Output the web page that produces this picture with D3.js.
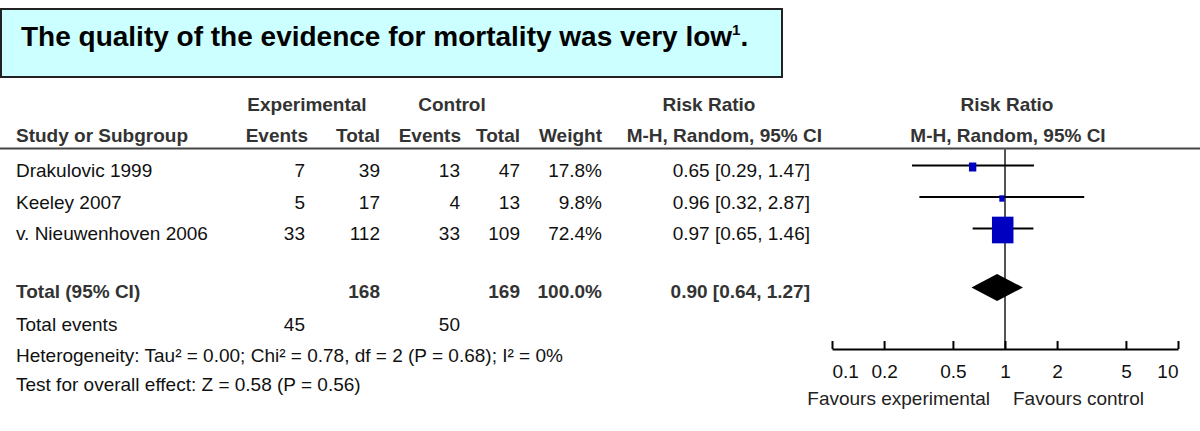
<!DOCTYPE html>
<html><head><meta charset="utf-8">
<script src="https://cdn.jsdelivr.net/npm/d3@7"></script>
<style>body{margin:0;background:#fff} svg{display:block}</style>
</head><body><svg id="c" width="1200" height="431"></svg>
<script>
// ---------- data ----------
const titleText = "The quality of the evidence for mortality was very low";
const titleSup = "1";
const studies = ["Drakulovic 1999", "Keeley 2007", "v. Nieuwenhoven 2006"];
const expEvents = [7, 5, 33];
const expTotal = [39, 17, 112];
const ctlEvents = [13, 4, 33];
const ctlTotal = [47, 13, 109];
const weights = [17.8, 9.8, 72.4];
const rr = [0.65, 0.96, 0.97];
const rrLow = [0.29, 0.32, 0.65];
const rrHigh = [1.47, 2.87, 1.46];
const totalLabel = "Total (95% CI)";
const totalExpTotal = 168, totalCtlTotal = 169, totalWeight = 100.0;
const totalRR = 0.90, totalLow = 0.64, totalHigh = 1.27;
const totalExpEvents = 45, totalCtlEvents = 50;
const heterogeneityText = "Heterogeneity: Tau² = 0.00; Chi² = 0.78, df = 2 (P = 0.68); I² = 0%";
const overallText = "Test for overall effect: Z = 0.58 (P = 0.56)";
const axisTicks = [0.1, 0.2, 0.5, 1, 2, 5, 10];
const favoursLeft = "Favours experimental", favoursRight = "Favours control";

// ---------- setup ----------
const svg = d3.select("#c");
const FONT = "'Liberation Sans',Arial,sans-serif";
const FS = 19;

function txt(g, s, x, y, anchor, opt = {}) {
  return g.append("text")
    .attr("x", x).attr("y", y)
    .attr("text-anchor", anchor)
    .style("font-family", FONT)
    .style("font-size", (opt.size || FS) + "px")
    .style("font-weight", opt.bold ? "bold" : "normal")
    .attr("fill", opt.fill || "#111")
    .text(s);
}

// ---------- title box ----------
svg.append("rect").attr("x", 1).attr("y", 9).attr("width", 781).attr("height", 68)
  .attr("fill", "#ccffff").attr("stroke", "#222").attr("stroke-width", 2);
const tt = svg.append("text").attr("x", 21).attr("y", 46)
  .style("font-family", FONT).style("font-size", "28px").style("font-weight", "bold")
  .attr("fill", "#000");
tt.append("tspan").text(titleText);
tt.append("tspan").attr("dy", -11).style("font-size", "15px").text(titleSup);
tt.append("tspan").attr("dy", 11).text(".");

// ---------- headers ----------
const hdr = svg.append("g");
const hOpt = { bold: true, fill: "#333" };
txt(hdr, "Experimental", 307, 111, "middle", hOpt);
txt(hdr, "Control", 452, 111, "middle", hOpt);
txt(hdr, "Risk Ratio", 709, 111, "middle", hOpt);
txt(hdr, "Risk Ratio", 1007, 111, "middle", hOpt);
txt(hdr, "Study or Subgroup", 16, 142, "start", hOpt);
txt(hdr, "Events", 308, 142, "end", hOpt);
txt(hdr, "Total", 380, 142, "end", hOpt);
txt(hdr, "Events", 461, 142, "end", hOpt);
txt(hdr, "Total", 520, 142, "end", hOpt);
txt(hdr, "Weight", 602, 142, "end", hOpt);
txt(hdr, "M-H, Random, 95% CI", 822, 142, "end", hOpt);
txt(hdr, "M-H, Random, 95% CI", 1008, 142, "middle", hOpt);
svg.append("line").attr("x1", 0).attr("x2", 1200).attr("y1", 148.5).attr("y2", 148.5)
  .attr("stroke", "#444").attr("stroke-width", 2);

// ---------- scales ----------
const x = d3.scaleLog().domain([0.1, 10]).range([832, 1178]);
const rowBase = d3.scaleLinear().domain([0, 1]).range([177, 208.5]);
const wSize = d3.scaleLinear().domain([0, 100]).range([2.7, 28.7]);
const hSize = d3.scaleLinear().domain([0, 100]).range([3.2, 35.6]);
const fmt2 = d3.format(".2f"), fmt1 = d3.format(".1f");
const ciStr = (a, b, c) => `${fmt2(a)} [${fmt2(b)}, ${fmt2(c)}]`;

// vertical line of no effect
svg.append("line").attr("x1", x(1)).attr("x2", x(1)).attr("y1", 148).attr("y2", 349)
  .attr("stroke", "#555").attr("stroke-width", 2);

// ---------- study rows ----------
const body = svg.append("g");
studies.forEach((s, i) => {
  const y = rowBase(i);
  txt(body, s, 16, y, "start");
  txt(body, expEvents[i], 305, y, "end");
  txt(body, expTotal[i], 380, y, "end");
  txt(body, ctlEvents[i], 460, y, "end");
  txt(body, ctlTotal[i], 520, y, "end");
  txt(body, fmt1(weights[i]) + "%", 602, y, "end");
  txt(body, ciStr(rr[i], rrLow[i], rrHigh[i]), 810, y, "end");
  const cy = y - 11.5;
  body.append("line").attr("x1", x(rrLow[i])).attr("x2", x(rrHigh[i]))
    .attr("y1", cy).attr("y2", cy).attr("stroke", "#000").attr("stroke-width", 2);
  const w = wSize(weights[i]), h = hSize(weights[i]);
  body.append("rect").attr("x", x(rr[i]) - w / 2).attr("y", cy - h / 2 + 1.5)
    .attr("width", w).attr("height", h).attr("fill", "#0000c0");
});

// ---------- total row ----------
const yT = 298;
const bOpt = { bold: true, fill: "#333" };
txt(body, totalLabel, 16, yT, "start", bOpt);
txt(body, totalExpTotal, 380, yT, "end", bOpt);
txt(body, totalCtlTotal, 520, yT, "end", bOpt);
txt(body, fmt1(totalWeight) + "%", 602, yT, "end", bOpt);
txt(body, ciStr(totalRR, totalLow, totalHigh), 810, yT, "end", bOpt);
const dy = yT - 10.5;
body.append("path")
  .attr("d", d3.line()([[x(totalLow), dy], [x(totalRR), dy - 13.5], [x(totalHigh), dy], [x(totalRR), dy + 13.5]]) + "Z")
  .attr("fill", "#000");

txt(body, "Total events", 16, 331, "start");
txt(body, totalExpEvents, 305, 331, "end");
txt(body, totalCtlEvents, 460, 331, "end");
txt(body, heterogeneityText, 16, 362, "start");
txt(body, overallText, 16, 391, "start");

// ---------- axis ----------
const ax = svg.append("g").attr("transform", "translate(0,349)")
  .call(d3.axisBottom(x).tickValues(axisTicks).tickSize(-8).tickSizeOuter(0).tickPadding(15.5)
    .tickFormat(d3.format("~g")));
ax.select(".domain").attr("stroke", "#000").attr("stroke-width", 2);
ax.selectAll(".tick line").attr("stroke", "#000").attr("stroke-width", 2);
ax.selectAll(".tick text")
  .style("font-family", FONT).style("font-size", FS + "px")
  .attr("fill", "#111");
const tks = ax.selectAll(".tick text").nodes();
d3.select(tks[0]).attr("text-anchor", "start").attr("x", 0);
d3.select(tks[tks.length - 1]).attr("text-anchor", "end").attr("x", 0);

txt(svg, favoursLeft, 990, 405, "end", { fill: "#222" });
txt(svg, favoursRight, 1013, 405, "start", { fill: "#222" });
</script></body></html>
